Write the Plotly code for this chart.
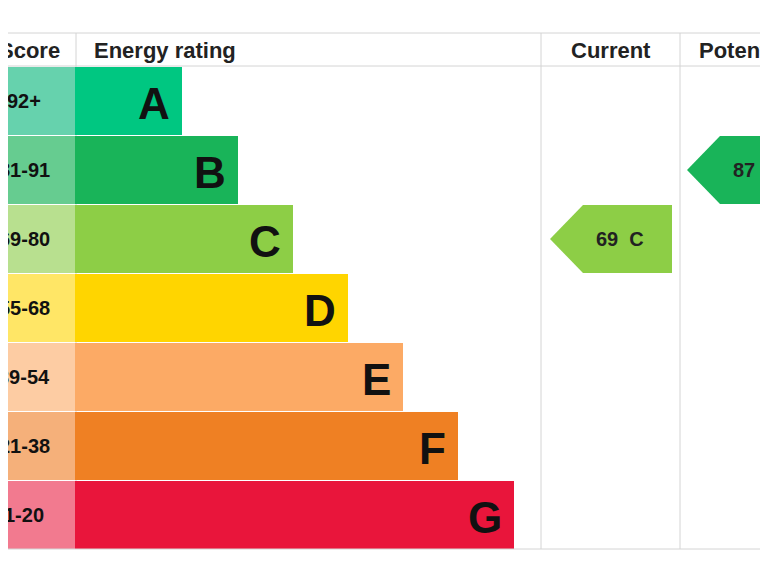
import plotly.graph_objects as go

bands = ["A", "B", "C", "D", "E", "F", "G"]
scores = ["92+", "81-91", "69-80", "55-68", "39-54", "21-38", "1-20"]
bar_colors = ["#00c781", "#19b459", "#8dce46", "#ffd500", "#fcaa65", "#ef8023", "#e9153b"]
score_colors = ["#66d2ad", "#66cc90", "#b8e08f", "#ffe666", "#fdcca3", "#f5b07a", "#f27a8f"]
bar_ends = [182, 238, 293, 348, 403, 458, 514]
current_value, current_band = 69, "C"
potential_value, potential_band = 87, "B"

top, row_h = 67, 69
centers = [top + row_h * i + row_h / 2 - 0.5 for i in range(len(bands))]
F = "Liberation Sans, Arial, sans-serif"

fig = go.Figure()
fig.add_bar(orientation="h", y=centers, x=[85] * 7, base=-10, width=row_h - 1,
            marker=dict(color=score_colors, line_width=0), hoverinfo="skip")
fig.add_bar(orientation="h", y=centers, x=[e - 75 for e in bar_ends], base=75, width=row_h - 1,
            marker=dict(color=bar_colors, line_width=0), hoverinfo="skip")

ann = []
for i, b in enumerate(bands):
    ann.append(dict(x=bar_ends[i] - 10, y=centers[i] + 2, text=f"<b>{b}</b>", xanchor="right", showarrow=False,
                    font=dict(family=F, size=44, color="#111"), yanchor="middle"))
    ann.append(dict(x=24, y=centers[i], text=f"<b>{scores[i]}</b>", xanchor="center", showarrow=False,
                    font=dict(family=F, size=20, color="#111")))

def arrow(x0, x1, band, color, label):
    i = bands.index(band)
    yc = centers[i]; h = row_h / 2 - 0.5
    xs = [x0, x0 + 33, x1, x1, x0 + 33, x0]
    ys = [yc, yc - h, yc - h, yc + h, yc + h, yc]
    fig.add_scatter(x=xs, y=ys, fill="toself", fillcolor=color, mode="lines", line_width=0,
                    hoverinfo="skip")
    ann.append(dict(x=x0 + 70, y=yc, text=label, showarrow=False, xanchor="center",
                    font=dict(family=F, size=20, color="#222")))

arrow(550, 672, current_band, bar_colors[bands.index(current_band)], f"<b>{current_value}  {current_band}</b>")
arrow(687, 800, potential_band, bar_colors[bands.index(potential_band)], f"<b>{potential_value}  {potential_band}</b>")

for t, x, xa in [("Score", 29, "center"), ("Energy rating", 92, "left"), ("Current", 611, "center"), ("Potential", 697, "left")]:
    ann.append(dict(x=x, y=50, text=f"<b>{t}</b>", xanchor=xa, showarrow=False,
                    font=dict(family=F, size=22, color="#222")))

shapes = []
lc = "#d4d4d4"
for y in [33, 66, 549]:
    shapes.append(dict(type="line", x0=-10, x1=800, y0=y, y1=y, line=dict(color=lc, width=1)))
for x in [76, 541, 680]:
    shapes.append(dict(type="line", x0=x, x1=x, y0=33, y1=549, line=dict(color=lc, width=1), layer="below"))

fig.update_layout(width=768, height=576, margin=dict(l=0, r=0, t=0, b=0), showlegend=False,
                  plot_bgcolor="white", paper_bgcolor="white", bargap=0, barmode="overlay",
                  xaxis=dict(range=[8, 776], visible=False, fixedrange=True),
                  yaxis=dict(range=[584, 8], visible=False, fixedrange=True),
                  annotations=ann, shapes=shapes)
fig.write_html("out.html")
